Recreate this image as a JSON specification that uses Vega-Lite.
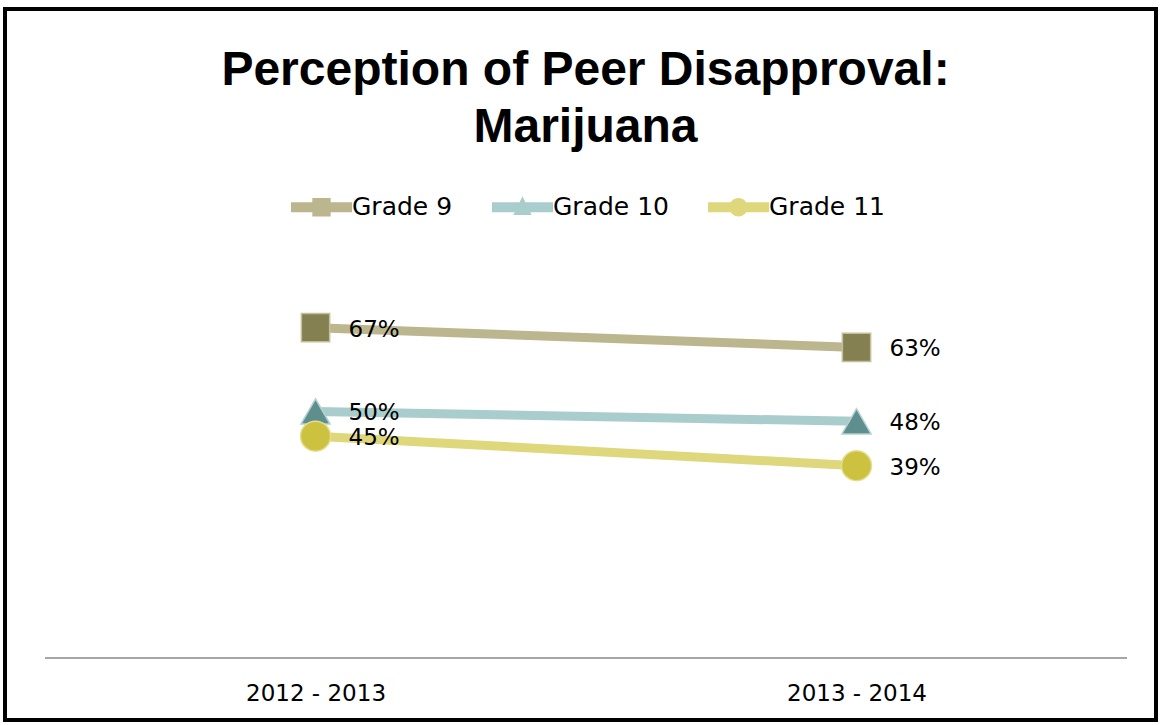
{
  "$schema": "https://vega.github.io/schema/vega-lite/v6.json",
  "autosize": {"type": "none"},
  "padding": {"left": 5, "top": 9, "right": 5, "bottom": 5},
  "width": 1151,
  "height": 711,
  "background": "white",
  "config": {
    "view": {"stroke": "#000000", "strokeWidth": 4},
    "font": "DejaVu Sans"
  },
  "title": {
    "text": ["Perception of Peer Disapproval:", "Marijuana"],
    "font": "Liberation Sans",
    "fontSize": 48,
    "fontWeight": "bold",
    "lineHeight": 57,
    "anchor": "middle",
    "baseline": "top",
    "offset": -143,
    "dx": 5,
    "color": "#000000"
  },
  "data": {
    "values": [
      {"grade": "Grade 9", "t": 0, "period": "2012 - 2013", "value": 0.67},
      {"grade": "Grade 9", "t": 1, "period": "2013 - 2014", "value": 0.63},
      {"grade": "Grade 10", "t": 0, "period": "2012 - 2013", "value": 0.50},
      {"grade": "Grade 10", "t": 1, "period": "2013 - 2014", "value": 0.48},
      {"grade": "Grade 11", "t": 0, "period": "2012 - 2013", "value": 0.45},
      {"grade": "Grade 11", "t": 1, "period": "2013 - 2014", "value": 0.39}
    ]
  },
  "encoding": {
    "x": {
      "field": "t",
      "type": "quantitative",
      "scale": {"domain": [-0.574, 1.5536], "nice": false, "zero": false},
      "axis": {
        "values": [0, 1],
        "labelExpr": "datum.value == 0 ? '2012 - 2013' : '2013 - 2014'",
        "grid": false,
        "ticks": false,
        "tickSize": 0,
        "domain": false,
        "title": null,
        "labelFontSize": 23,
        "labelFont": "DejaVu Sans",
        "labelColor": "#000000",
        "labelBaseline": "middle",
        "labelPadding": -27
      }
    },
    "y": {
      "field": "value",
      "type": "quantitative",
      "scale": {"domain": [-0.1258, 1.3164], "nice": false, "zero": false},
      "axis": null
    }
  },
  "layer": [
    {
      "mark": {"type": "rule", "color": "#A6A6A6", "strokeWidth": 2},
      "encoding": {
        "x": {"datum": -0.5, "type": "quantitative"},
        "x2": {"datum": 1.5},
        "y": {"datum": 0, "type": "quantitative"}
      }
    },
    {
      "mark": {"type": "point", "filled": true, "opacity": 0},
      "encoding": {
        "color": {
          "field": "grade",
          "type": "nominal",
          "sort": ["Grade 9", "Grade 10", "Grade 11"],
          "scale": {"domain": ["Grade 9", "Grade 10", "Grade 11"], "range": ["#BCB68E", "#A9CDCC", "#DED77C"]},
          "legend": {
            "orient": "none",
            "legendX": 286,
            "legendY": 167.5,
            "direction": "horizontal",
            "title": null,
            "symbolSize": 3721,
            "symbolStrokeWidth": 0,
            "symbolOpacity": 1,
            "labelFontSize": 25,
            "labelFont": "DejaVu Sans",
            "labelColor": "#000000",
            "labelOffset": 0,
            "columnPadding": 39
          }
        },
        "shape": {
          "field": "grade",
          "type": "nominal",
          "sort": ["Grade 9", "Grade 10", "Grade 11"],
          "scale": {
            "domain": ["Grade 9", "Grade 10", "Grade 11"],
            "range": [
              "M-1,-0.164H1V0.164H-1Z M-0.3,-0.3H0.3V0.3H-0.3Z",
              "M-1,-0.164H1V0.164H-1Z M0,-0.36L0.3,0.25H-0.3Z",
              "M-1,-0.164H1V0.164H-1Z M-0.3,0A0.3,0.3 0 1,1 0.3,0A0.3,0.3 0 1,1 -0.3,0Z"
            ]
          },
          "legend": {
            "orient": "none",
            "legendX": 286,
            "legendY": 167.5,
            "direction": "horizontal",
            "title": null,
            "symbolSize": 3721,
            "symbolStrokeWidth": 0,
            "symbolOpacity": 1,
            "labelFontSize": 25,
            "labelFont": "DejaVu Sans",
            "labelColor": "#000000",
            "labelOffset": 0,
            "columnPadding": 39
          }
        }
      }
    },
    {
      "mark": {"type": "line", "strokeWidth": 9, "strokeCap": "butt"},
      "encoding": {
        "stroke": {
          "field": "grade",
          "type": "nominal",
          "scale": {"domain": ["Grade 9", "Grade 10", "Grade 11"], "range": ["#BCB68E", "#A9CDCC", "#DED77C"]},
          "legend": null
        }
      }
    },
    {
      "transform": [{"filter": "datum.grade == 'Grade 9'"}],
      "mark": {"type": "point", "shape": "square", "filled": true, "opacity": 1, "size": 800, "fill": "#858052", "stroke": "#C4BF98", "strokeWidth": 1.5}
    },
    {
      "transform": [{"filter": "datum.grade == 'Grade 10'"}],
      "mark": {"type": "point", "shape": "triangle-up", "filled": true, "opacity": 1, "size": 850, "fill": "#5F8E8E", "stroke": "#B4D2D1", "strokeWidth": 1.5}
    },
    {
      "transform": [{"filter": "datum.grade == 'Grade 11'"}],
      "mark": {"type": "point", "shape": "circle", "filled": true, "opacity": 1, "size": 900, "fill": "#CCC240", "stroke": "#E4DE90", "strokeWidth": 1.5}
    },
    {
      "mark": {"type": "text", "align": "left", "baseline": "middle", "dx": 33, "dy": 2, "fontSize": 23, "font": "DejaVu Sans", "color": "#000000"},
      "encoding": {
        "text": {"field": "value", "type": "quantitative", "format": ".0%"}
      }
    }
  ]
}
